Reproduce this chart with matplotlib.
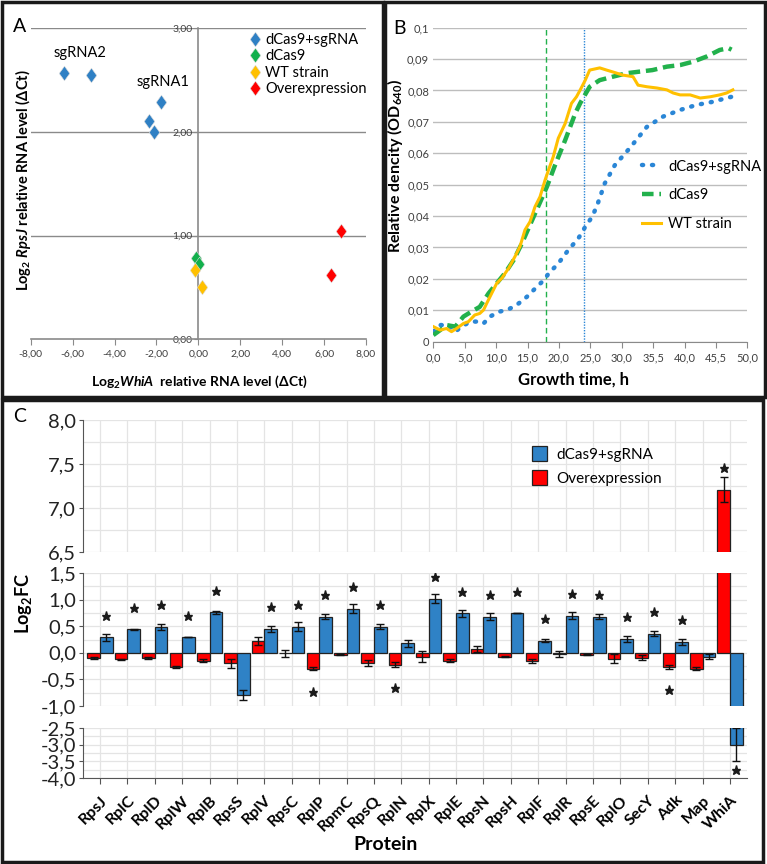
import matplotlib
matplotlib.use("Agg")
import matplotlib.pyplot as plt
import numpy as np
from matplotlib.patches import Patch, Rectangle
from matplotlib.path import Path

plt.rcParams['font.family'] = ['Lato', 'DejaVu Sans']
plt.rcParams['mathtext.fontset'] = 'custom'
plt.rcParams['mathtext.default'] = 'regular'
plt.rcParams['mathtext.it'] = 'Lato:italic:bold'
plt.rcParams['mathtext.rm'] = 'Lato'
plt.rcParams['mathtext.bf'] = 'Lato:bold'

# ---------------- data: panel A ----------------
sg_x = [-6.41, -5.14, -1.78, -2.34, -2.12]
sg_y = [2.57, 2.55, 2.29, 2.11, 2.00]
dcas_x = [-0.11, 0.05]
dcas_y = [0.78, 0.73]
wt_x = [-0.16, 0.19]
wt_y = [0.67, 0.50]
ov_x = [6.81, 6.35]
ov_y = [1.04, 0.62]

# ---------------- data: panel B ----------------
wt_t = [0, 1.1, 2.1, 2.9, 3.7, 4.8, 5.6, 6.6, 7.4, 8.0, 8.5, 9.3, 10.1, 10.9, 12.0, 13.0,
        13.8, 14.6, 15.4, 16.2, 17.0, 17.8, 18.35, 19.1, 19.9, 21.0, 22.0, 22.8, 23.4, 24.2,
        24.9, 26.5, 27.6, 28.6, 30.2, 31.8, 32.6, 34.0, 35.6, 37.2, 38.2, 39.3, 40.9, 42.5,
        44.1, 45.6, 46.7, 47.7]
wt_od = [0.0048, 0.0037, 0.0042, 0.0032, 0.0042, 0.0058, 0.0064, 0.0085, 0.009, 0.0101,
         0.0122, 0.0154, 0.0186, 0.0202, 0.0234, 0.0271, 0.0303, 0.0356, 0.0382, 0.043,
         0.0462, 0.0515, 0.0547, 0.0589, 0.0648, 0.0695, 0.0759, 0.078, 0.0802, 0.0833,
         0.0865, 0.0872, 0.0865, 0.0859, 0.0849, 0.0844, 0.0817, 0.0812, 0.0808, 0.0802,
         0.0792, 0.0786, 0.0786, 0.0776, 0.078, 0.0786, 0.0792, 0.0802]
dc_t = [0, 1.1, 2.1, 3.5, 4.8, 6.1, 7.4, 8.8, 10.1, 11.4, 12.8, 14.1, 15.4, 16.8, 18.1,
        19.4, 21.0, 22.6, 23.4, 24.9, 26.5, 28.6, 30.8, 32.8, 34.9, 37.2, 39.3, 41.4, 43.5,
        45.6, 47.0, 47.5]
dc_od = [0.0021, 0.0037, 0.0053, 0.0048, 0.008, 0.0096, 0.0111, 0.0154, 0.0186, 0.0218,
         0.026, 0.0313, 0.0372, 0.0435, 0.0494, 0.0563, 0.0642, 0.0727, 0.076, 0.0812,
         0.0833, 0.0844, 0.0855, 0.086, 0.0865, 0.0876, 0.0881, 0.0892, 0.0908, 0.0929,
         0.0935, 0.093]
sg_t = [0, 1.1, 2.4, 3.5, 4.5, 5.9, 7.2, 8.0, 9.0, 10.6, 12.0, 13.6, 14.9, 16.5, 17.6,
        18.4, 19.9, 21.5, 23.1, 24.2, 25.3, 26.1, 27.3, 28.9, 31.3, 34.0, 36.6, 39.3, 41.9,
        44.5, 46.7, 47.5]
sg_od = [0.0032, 0.0053, 0.0053, 0.0032, 0.0048, 0.0064, 0.0064, 0.0058, 0.008, 0.0096,
         0.0103, 0.0122, 0.0143, 0.0175, 0.0196, 0.0218, 0.0249, 0.0292, 0.0329, 0.0366,
         0.0398, 0.0435, 0.0504, 0.0562, 0.0617, 0.0684, 0.0717, 0.0738, 0.0754, 0.0764,
         0.0776, 0.078]
time_labels = ['0,0', '5,0', '10,0', '15,0', '20,0', '25,0', '30,0', '35,5', '40,0', '45,5', '50,0']
od_labels = ['0', '0,01', '0,02', '0,03', '0,04', '0,05', '0,06', '0,07', '0,08', '0,09', '0,1']

# ---------------- data: panel C ----------------
proteins = ['RpsJ', 'RplC', 'RplD', 'RplW', 'RplB', 'RpsS', 'RplV', 'RpsC', 'RplP', 'RpmC',
            'RpsQ', 'RplN', 'RplX', 'RplE', 'RpsN', 'RpsH', 'RplF', 'RplR', 'RpsE', 'RplO',
            'SecY', 'Adk', 'Map', 'WhiA']
overexp = [-0.09, -0.125, -0.09, -0.26, -0.15, -0.20, 0.22, -0.01, -0.30, -0.04, -0.19, -0.22,
           -0.075, -0.15, 0.075, -0.075, -0.15, -0.02, -0.04, -0.11, -0.09, -0.26, -0.30, 7.21]
overexp_err = [0.02, 0.01, 0.02, 0.02, 0.03, 0.09, 0.07, 0.07, 0.03, 0.01, 0.06, 0.05,
               0.10, 0.03, 0.06, 0.01, 0.04, 0.05, 0.01, 0.08, 0.05, 0.04, 0.025, 0.14]
sgrna = [0.29, 0.44, 0.49, 0.29, 0.76, -0.79, 0.45, 0.49, 0.68, 0.83, 0.49, 0.175, 1.02, 0.74,
         0.68, 0.74, 0.225, 0.70, 0.68, 0.26, 0.36, 0.21, -0.075, -3.0]
sgrna_err = [0.07, 0.01, 0.055, 0.0, 0.03, 0.09, 0.06, 0.08, 0.05, 0.08, 0.05, 0.075, 0.09,
             0.07, 0.07, 0.0, 0.03, 0.07, 0.05, 0.05, 0.05, 0.055, 0.05, 0.5]
# significance stars: (protein index, y, side) side -1 = red bar, +1 = blue bar
stars = [(0, 0.69, 1), (1, 0.84, 1), (2, 0.90, 1), (3, 0.69, 1), (4, 1.16, 1), (6, 0.86, 1),
         (7, 0.90, 1), (8, 1.09, 1), (9, 1.24, 1), (10, 0.90, 1), (12, 1.42, 1), (13, 1.14, 1),
         (14, 1.09, 1), (15, 1.14, 1), (16, 0.63, 1), (17, 1.11, 1), (18, 1.09, 1),
         (19, 0.675, 1), (20, 0.77, 1), (21, 0.61, 1), (23, 7.46, -1),
         (8, -0.74, -1), (11, -0.66, -1), (21, -0.70, -1), (23, -3.75, 1)]

W, H = 767, 864
fig = plt.figure(figsize=(W / 100, H / 100), dpi=100)


def fx(px):
    return px / W


def fy(py):
    return 1 - py / H


def box(x0, y0, x1, y1):
    return [fx(x0), fy(y1), fx(x1) - fx(x0), fy(y0) - fy(y1)]


# panel frames
for (x0, y0, x1, y1) in [(2, 2, 383, 397), (385, 2, 765, 397), (2, 400, 763, 862)]:
    fig.add_artist(Rectangle((fx(x0), fy(y1)), fx(x1) - fx(x0), fy(y0) - fy(y1),
                             transform=fig.transFigure, fill=False, lw=2.5, ec='#1a1a1a'))

# ================= Panel A =================
diamond = Path([(0, 1), (0.72, 0), (0, -1), (-0.72, 0), (0, 1)],
               [Path.MOVETO, Path.LINETO, Path.LINETO, Path.LINETO, Path.CLOSEPOLY])
c_blue, c_green, c_yel, c_red = '#2f80c4', '#12b04c', '#ffc000', '#ff0000'
gray = '#8a8a8a'

axA = fig.add_axes(box(30.7, 28.3, 366, 339.3))
axA.set_xlim(-8, 8)
axA.set_ylim(0, 3)
for yy in [1, 2, 3]:
    axA.axhline(yy, color=gray, lw=1, zorder=0)
axA.spines['left'].set_position(('data', 0))
for s in ['top', 'right']:
    axA.spines[s].set_visible(False)
for s in ['left', 'bottom']:
    axA.spines[s].set_color(gray)
    axA.spines[s].set_linewidth(1.2)
axA.set_xticks(np.arange(-8, 9, 2))
axA.set_xticklabels(['%d,00' % v for v in np.arange(-8, 9, 2)])
axA.set_yticks([0, 1, 2, 3])
axA.set_yticklabels(['0,00', '1,00', '2,00', '3,00'])
axA.tick_params(axis='both', colors=gray, labelcolor='#404040', labelsize=7.5, length=4)
axA.tick_params(axis='y', pad=1, length=3)
for xs, ys, c, lab in [(sg_x, sg_y, c_blue, 'dCas9+sgRNA'), (dcas_x, dcas_y, c_green, 'dCas9'),
                       (wt_x, wt_y, c_yel, 'WT strain'), (ov_x, ov_y, c_red, 'Overexpression')]:
    axA.plot(xs, ys, ls='none', marker=diamond, ms=10.5, color=c, mec='#dddddd', mew=0.4,
             label=lab, clip_on=False, zorder=3)
axA.legend(loc='upper left', bbox_to_anchor=(0.655, 0.985), frameon=False, fontsize=10.5,
           handlelength=0.6, handletextpad=0.4, labelspacing=0.17, borderpad=0, borderaxespad=0)
axA.text(-5.63, 2.76, 'sgRNA2', fontsize=10.5, ha='center', va='center')
axA.text(-1.68, 2.48, 'sgRNA1', fontsize=10.5, ha='center', va='center')
fig.text(fx(20), fy(27), 'A', fontsize=14, ha='center', va='center')
fig.text(fx(199), fy(382), r'Log$_2\mathit{WhiA}$  relative RNA level (ΔCt)', fontsize=10,
         fontweight='bold', ha='center', va='center')
fig.text(fx(23), fy(180), r'Log$_2$ $\mathit{RpsJ}$ relative RNA level (ΔCt)', fontsize=10.5,
         fontweight='bold', ha='center', va='center', rotation=90)

# ================= Panel B =================
bl, gr = '#2a86d6', '#22b14c'
axB = fig.add_axes(box(433.3, 27.7, 747.3, 341.7))
axB.set_xlim(0, 50)
axB.set_ylim(0, 0.1)
axB.set_yticks(np.arange(0, 0.1001, 0.01))
axB.set_yticklabels(od_labels)
axB.set_xticks(np.arange(0, 50.01, 5))
axB.set_xticklabels(time_labels)
axB.grid(axis='y', color='#bdbdbd', lw=1)
axB.set_axisbelow(True)
for s in ['top', 'right', 'left']:
    axB.spines[s].set_visible(False)
axB.spines['bottom'].set_color(gray)
axB.tick_params(axis='y', length=0, labelsize=8, labelcolor='#404040', pad=3)
axB.tick_params(axis='x', length=4, color=gray, labelsize=8, labelcolor='#404040')
axB.axvline(18.0, color=gr, lw=1, ls=(0, (4, 2.5)))
axB.axvline(24.05, color=bl, lw=1, ls=(0, (1, 1)))
axB.plot(sg_t, sg_od, color=bl, lw=3.2, ls=(0, (0.25, 2.0)), dash_capstyle='round',
         label='dCas9+sgRNA')
axB.plot(dc_t, dc_od, color=gr, lw=3.2, ls=(0, (2.6, 1.3)), label='dCas9')
axB.plot(wt_t, wt_od, color=c_yel, lw=2.2, label='WT strain')
axB.legend(loc='upper left', bbox_to_anchor=(0.665, 0.58), frameon=False, fontsize=10.5,
           handlelength=1.3, handletextpad=0.5, labelspacing=1.0, borderpad=0, borderaxespad=0)
fig.text(fx(399), fy(29), 'B', fontsize=14, ha='center', va='center')
fig.text(fx(573), fy(380), 'Growth time, h', fontsize=12, fontweight='bold',
         ha='center', va='center')
fig.text(fx(395), fy(166), r'Relative dencity (OD$_{640}$)', fontsize=11.5, fontweight='bold',
         ha='center', va='center', rotation=90)

# ================= Panel C =================
cb, cr = '#2f82c6', '#ff0000'
x = np.arange(len(proteins))
bw = 0.46
segs = [((420, 552), (6.5, 8.0)), ((573, 706), (-1.0, 1.5)), ((728, 778), (-4.0, -2.5))]
axes_c = []
for i, ((top, bot), (lo, hi)) in enumerate(segs):
    ax = fig.add_axes(box(83, top, 747, bot))
    ax.set_xlim(-0.62, 23.62)
    ax.set_ylim(lo, hi)
    ax.bar(x - bw / 2, overexp, bw, color=cr, edgecolor='#222222', lw=0.9, zorder=2)
    ax.bar(x + bw / 2, sgrna, bw, color=cb, edgecolor='#222222', lw=0.9, zorder=2)
    ax.errorbar(x - bw / 2, overexp, yerr=overexp_err, fmt='none', ecolor='#111111',
                elinewidth=1, capsize=3, capthick=1, zorder=3)
    ax.errorbar(x + bw / 2, sgrna, yerr=sgrna_err, fmt='none', ecolor='#111111',
                elinewidth=1, capsize=3, capthick=1, zorder=3)
    sx = [k + side * bw / 2 for k, yv, side in stars if lo <= yv <= hi]
    sy = [yv for k, yv, side in stars if lo <= yv <= hi]
    ax.plot(sx, sy, ls='none', marker='*', ms=6.5, color='#1a1a1a', zorder=4)
    yt = np.arange(lo, hi + 0.001, 0.5)
    ax.set_yticks(yt)
    ax.set_yticklabels([('%.1f' % v).replace('.', ',') for v in yt])
    ax.set_yticks(np.arange(lo, hi + 0.001, 0.25), minor=True)
    ax.set_xticks(x)
    ax.grid(True, which='both', color='#e4e4e4', lw=0.9)
    ax.set_axisbelow(True)
    for s in ['top', 'right', 'bottom']:
        ax.spines[s].set_visible(False)
    ax.spines['left'].set_color('#555555')
    ax.tick_params(axis='y', which='major', length=3, color='#555555', labelsize=14.5,
                   labelcolor='#222222', pad=2)
    ax.tick_params(axis='y', which='minor', length=0)
    if i < 2:
        ax.tick_params(axis='x', length=0, labelbottom=False)
    axes_c.append(ax)

axb = axes_c[2]
axb.spines['bottom'].set_visible(True)
axb.spines['bottom'].set_color('#555555')
axb.tick_params(axis='x', length=4, color='#555555', pad=7)
axb.set_xticklabels(proteins, rotation=45, ha='right', rotation_mode='anchor',
                    fontsize=11.5, fontweight='bold')
axes_c[0].legend(handles=[Patch(facecolor=cb, edgecolor='#222222', lw=0.9, label='dCas9+sgRNA'),
                          Patch(facecolor=cr, edgecolor='#222222', lw=0.9, label='Overexpression')],
                 loc='upper left', bbox_to_anchor=(0.676, 0.80), frameon=False, fontsize=11,
                 handlelength=1.0, handleheight=1.1, handletextpad=0.6, labelspacing=0.55,
                 borderpad=0, borderaxespad=0)
fig.text(fx(20), fy(417), 'C', fontsize=14, ha='center', va='center')
fig.text(fx(386), fy(844), 'Protein', fontsize=14, fontweight='bold', ha='center', va='center')
fig.text(fx(23), fy(603), r'Log$_2$FC', fontsize=13, fontweight='bold', ha='center',
         va='center', rotation=90)

fig.savefig('out.png', dpi=100, facecolor='white')
